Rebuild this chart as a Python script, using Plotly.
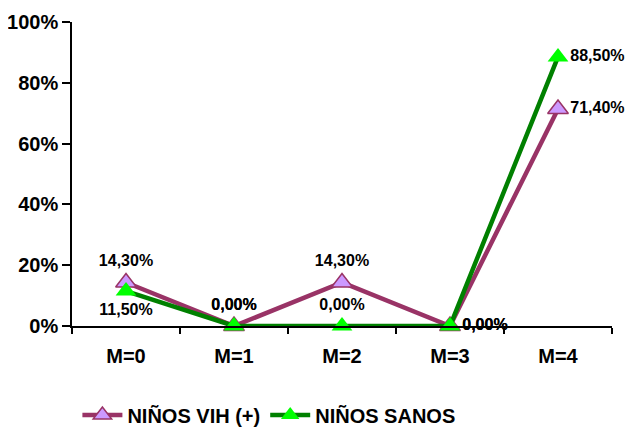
import plotly.graph_objects as go

categories = ["M=0", "M=1", "M=2", "M=3", "M=4"]
vih = [14.3, 0.0, 14.3, 0.0, 71.4]
sanos = [11.5, 0.0, 0.0, 0.0, 88.5]
vih_labels = ["14,30%", "0,00%", "14,30%", "0,00%", "71,40%"]
sanos_labels = ["11,50%", "0,00%", "0,00%", "0,00%", "88,50%"]
y_ticks = [0, 20, 40, 60, 80, 100]
y_ticklabels = ["0%", "20%", "40%", "60%", "80%", "100%"]

font = "Arial, Liberation Sans, sans-serif"
lab_font = dict(family=font, size=16, color="black", weight="bold")

fig = go.Figure()
fig.add_trace(go.Scatter(
    x=categories, y=vih, name="NIÑOS VIH (+)", mode="lines+markers+text",
    line=dict(color="#993366", width=4.5),
    marker=dict(symbol="triangle-up", size=18, color="#CC99FF", line=dict(color="#993366", width=1.5)),
    text=vih_labels,
    textposition=["top center", "top center", "top center", "middle right", "middle right"],
    textfont=lab_font, cliponaxis=False,
))
fig.add_trace(go.Scatter(
    x=categories, y=sanos, name="NIÑOS SANOS", mode="lines+markers+text",
    line=dict(color="#008000", width=4.5),
    marker=dict(symbol="triangle-up", size=18, color="#00FF00", line=dict(color="#00FF00", width=0)),
    text=sanos_labels,
    textposition=["bottom center", "top center", "top center", "middle right", "middle right"],
    textfont=lab_font, cliponaxis=False,
))

fig.update_layout(
    width=627, height=420,
    margin=dict(l=64, r=23, t=14, b=102, autoexpand=False),
    paper_bgcolor="white", plot_bgcolor="white",
    font=dict(family=font, color="black"),
    showlegend=True,
    legend=dict(orientation="h", x=0.01, xanchor="left", y=-0.293, yanchor="middle",
                font=dict(family=font, size=20, color="black", weight="bold"),
                bgcolor="rgba(0,0,0,0)", itemwidth=40, tracegroupgap=0),
    xaxis=dict(
        type="category", range=[-0.5, 4.5], automargin=False,
        showline=True, linecolor="black", linewidth=1.5,
        ticks="outside", tickson="boundaries", ticklen=6, tickcolor="black", tickwidth=1.5,
        showgrid=False, zeroline=False, ticklabelstandoff=11,
        tickfont=dict(family=font, size=20, color="black", weight="bold"),
    ),
    yaxis=dict(
        range=[0, 100], tickvals=y_ticks, ticktext=y_ticklabels, automargin=False,
        showline=True, linecolor="black", linewidth=1.5,
        ticks="outside", ticklen=8, tickcolor="black", tickwidth=1.5,
        showgrid=False, zeroline=False,
        tickfont=dict(family=font, size=20, color="black", weight="bold"),
    ),
)

fig.write_html("out.html")
